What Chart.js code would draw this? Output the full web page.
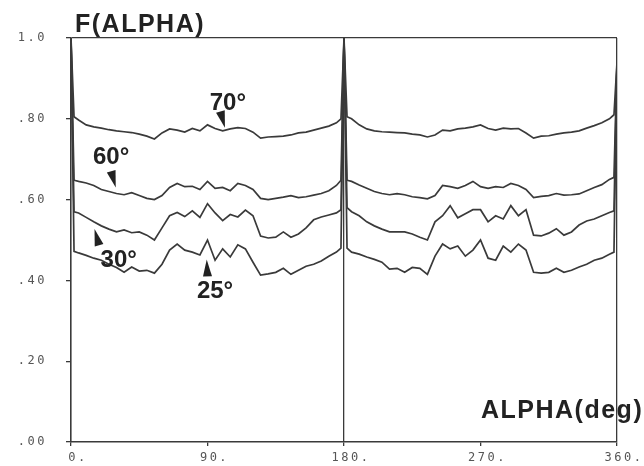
<!DOCTYPE html>
<html><head><meta charset="utf-8">
<script src="https://cdn.jsdelivr.net/npm/chart.js@4"></script>
<style>html,body{margin:0;padding:0;background:#fff}#wrap{width:644px;height:466px}</style>
</head><body><div id="wrap"><canvas id="c" width="644" height="466"></canvas></div>
<script>
// angle (deg)
const angles = [0,2,5,10,15,20,25,30,35,40,45,50,55,60,65,70,75,80,85,90,95,100,105,110,115,120,125,130,135,140,145,150,155,160,165,170,175,178,180,182,185,190,195,200,205,210,215,220,225,230,235,240,245,250,255,260,265,270,275,280,285,290,295,300,305,310,315,320,325,330,335,340,345,350,355,358,360];
// F(ALPHA) for each curve
const f70 = [1.0,0.805,0.797,0.785,0.78,0.777,0.773,0.77,0.768,0.766,0.762,0.757,0.75,0.765,0.775,0.772,0.767,0.776,0.77,0.785,0.776,0.77,0.775,0.778,0.776,0.767,0.752,0.755,0.756,0.757,0.76,0.765,0.767,0.772,0.777,0.782,0.79,0.80,
 1.0,
 0.805,0.80,0.785,0.775,0.77,0.768,0.767,0.766,0.765,0.762,0.76,0.755,0.76,0.772,0.77,0.775,0.777,0.78,0.785,0.776,0.772,0.777,0.775,0.776,0.765,0.752,0.757,0.758,0.762,0.765,0.767,0.77,0.777,0.783,0.79,0.80,0.81,0.94];
const f60 = [1.0,0.648,0.645,0.641,0.635,0.625,0.62,0.615,0.612,0.617,0.61,0.603,0.60,0.61,0.63,0.64,0.632,0.633,0.625,0.645,0.628,0.63,0.622,0.64,0.635,0.625,0.603,0.60,0.603,0.606,0.61,0.605,0.607,0.611,0.615,0.622,0.635,0.648,
 1.0,
 0.648,0.645,0.636,0.628,0.62,0.615,0.612,0.615,0.612,0.607,0.605,0.602,0.61,0.635,0.632,0.628,0.635,0.645,0.632,0.628,0.632,0.63,0.64,0.635,0.625,0.605,0.608,0.61,0.615,0.611,0.612,0.614,0.622,0.63,0.637,0.65,0.655,0.94];
const f30 = [1.0,0.57,0.567,0.556,0.545,0.535,0.527,0.52,0.525,0.518,0.52,0.512,0.50,0.53,0.56,0.568,0.558,0.572,0.556,0.59,0.567,0.548,0.563,0.557,0.574,0.56,0.51,0.505,0.507,0.52,0.507,0.515,0.53,0.55,0.557,0.562,0.567,0.575,
 1.0,
 0.58,0.57,0.56,0.545,0.535,0.527,0.52,0.52,0.52,0.515,0.507,0.50,0.545,0.56,0.585,0.555,0.565,0.575,0.575,0.545,0.56,0.552,0.585,0.56,0.575,0.512,0.51,0.517,0.528,0.512,0.52,0.537,0.547,0.552,0.56,0.568,0.572,0.94];
const f25 = [1.0,0.472,0.468,0.462,0.455,0.45,0.44,0.432,0.42,0.433,0.423,0.425,0.418,0.44,0.475,0.49,0.475,0.47,0.463,0.5,0.45,0.478,0.458,0.488,0.478,0.445,0.413,0.416,0.42,0.43,0.415,0.425,0.435,0.44,0.448,0.46,0.47,0.48,
 1.0,
 0.48,0.47,0.465,0.458,0.452,0.445,0.428,0.43,0.42,0.432,0.43,0.415,0.46,0.49,0.478,0.485,0.46,0.475,0.5,0.455,0.45,0.485,0.47,0.49,0.475,0.42,0.418,0.42,0.43,0.42,0.425,0.433,0.44,0.45,0.455,0.465,0.47,0.94];
// tick labels
const xTickValues = [0,90,180,270,360];
const xTickLabels = ['0.','90.','180.','270.','360.'];
const yTickValues = [0,0.2,0.4,0.6,0.8,1.0];
const yTickLabels = ['.00','.20','.40','.60','.80','1.0'];
// curve labels
const curveLabels = ['70°','60°','30°','25°'];
const yTitle = 'F(ALPHA)';
const xTitle = 'ALPHA(deg)';

const INK = '#3a3a3a';
const series = [f70,f60,f30,f25];

// annotation placement (data coordinates): text left/baseline, arrow tip, arrow base
const annPlace = [
  {tx:91.5, ty:0.822, tip:[101.5,0.778], base:[98.5,0.818]},
  {tx:14.5, ty:0.688, tip:[29.5,0.630], base:[26.5,0.670]},
  {tx:19.5, ty:0.433, tip:[15.5,0.527], base:[18.5,0.487]},
  {tx:83.0, ty:0.356, tip:[89.5,0.452], base:[90.0,0.410]}
];

const spacing = {
  id:'spacing',
  beforeDraw(chart){ chart.ctx.letterSpacing = '2.5px'; },
  beforeDatasetsDraw(chart){ chart.ctx.letterSpacing = '0px'; }
};

const annot = {
  id:'annot',
  afterDraw(chart){
    const ctx = chart.ctx, xs = chart.scales.x, ys = chart.scales.y;
    ctx.save();
    ctx.fillStyle = '#222';
    ctx.textBaseline = 'alphabetic';
    ctx.textAlign = 'left';
    ctx.font = 'bold 25px "Liberation Sans", Arial, sans-serif';
    ctx.letterSpacing = '1.5px';
    ctx.fillText(yTitle, 75, 32);
    ctx.fillText(xTitle, 481, 418);
    ctx.font = 'bold 24px "Liberation Sans", Arial, sans-serif';
    ctx.letterSpacing = '0px';
    annPlace.forEach((p,i)=>{
      const px = xs.getPixelForValue(p.tx), py = ys.getPixelForValue(p.ty);
      ctx.fillText(curveLabels[i], px, py);
      const tx = xs.getPixelForValue(p.tip[0]), ty = ys.getPixelForValue(p.tip[1]);
      const bx = xs.getPixelForValue(p.base[0]), by = ys.getPixelForValue(p.base[1]);
      const dx = tx-bx, dy = ty-by, L = Math.hypot(dx,dy);
      const nx = -dy/L*4.5, ny = dx/L*4.5;
      ctx.beginPath();
      ctx.moveTo(tx,ty);
      ctx.lineTo(bx+nx,by+ny);
      ctx.lineTo(bx-nx,by-ny);
      ctx.closePath();
      ctx.fill();
    });
    ctx.restore();
  }
};

new Chart(document.getElementById('c'), {
  type:'line',
  data:{
    datasets: series.map((s,k)=>({
      label: curveLabels[k],
      data: angles.map((a,i)=>({x:a,y:s[i]})),
      borderColor: INK,
      borderWidth: 1.7,
      pointRadius: 0,
      tension: 0,
      fill: false
    }))
  },
  options:{
    responsive:false,
    animation:false,
    layout:{padding:{top:38,right:27,left:0,bottom:0}},
    plugins:{legend:{display:false},tooltip:{enabled:false},title:{display:false}},
    scales:{
      x:{
        type:'linear', min:0, max:360,
        afterBuildTicks(s){ s.ticks = xTickValues.map(v=>({value:v})); },
        afterFit(s){ s.height = 24; s.paddingLeft = 0; s.paddingRight = 0; },
        ticks:{
          callback:(v)=>{ const i = xTickValues.indexOf(v); return i>=0 ? xTickLabels[i] : ''; },
          color:'#555', font:{family:'"DejaVu Sans Mono", monospace', size:12},
          padding:5, maxRotation:0, autoSkip:false, labelOffset:7
        },
        grid:{
          color:(c)=> (c.tick && (c.tick.value===180 || c.tick.value===360)) ? INK : 'rgba(0,0,0,0)',
          lineWidth:1.3,
          tickColor:INK, tickLength:4, drawTicks:true
        },
        border:{display:true,color:INK,width:1.6}
      },
      y:{
        type:'linear', min:0, max:1.0,
        afterBuildTicks(s){ s.ticks = yTickValues.map(v=>({value:v})); },
        afterFit(s){ s.width = 71; s.paddingTop = 0; s.paddingBottom = 0; },
        ticks:{
          callback:(v)=>{ const i = yTickValues.findIndex(t=>Math.abs(t-v)<1e-9); return i>=0 ? yTickLabels[i] : ''; },
          color:'#555', font:{family:'"DejaVu Sans Mono", monospace', size:12},
          padding:19, autoSkip:false
        },
        grid:{
          color:(c)=> (c.tick && Math.abs(c.tick.value-1)<1e-9) ? INK : 'rgba(0,0,0,0)',
          lineWidth:1.3,
          tickColor:INK, tickLength:5, drawTicks:true
        },
        border:{display:true,color:INK,width:1.6}
      }
    }
  },
  plugins:[spacing, annot]
});
</script>
</body></html>
